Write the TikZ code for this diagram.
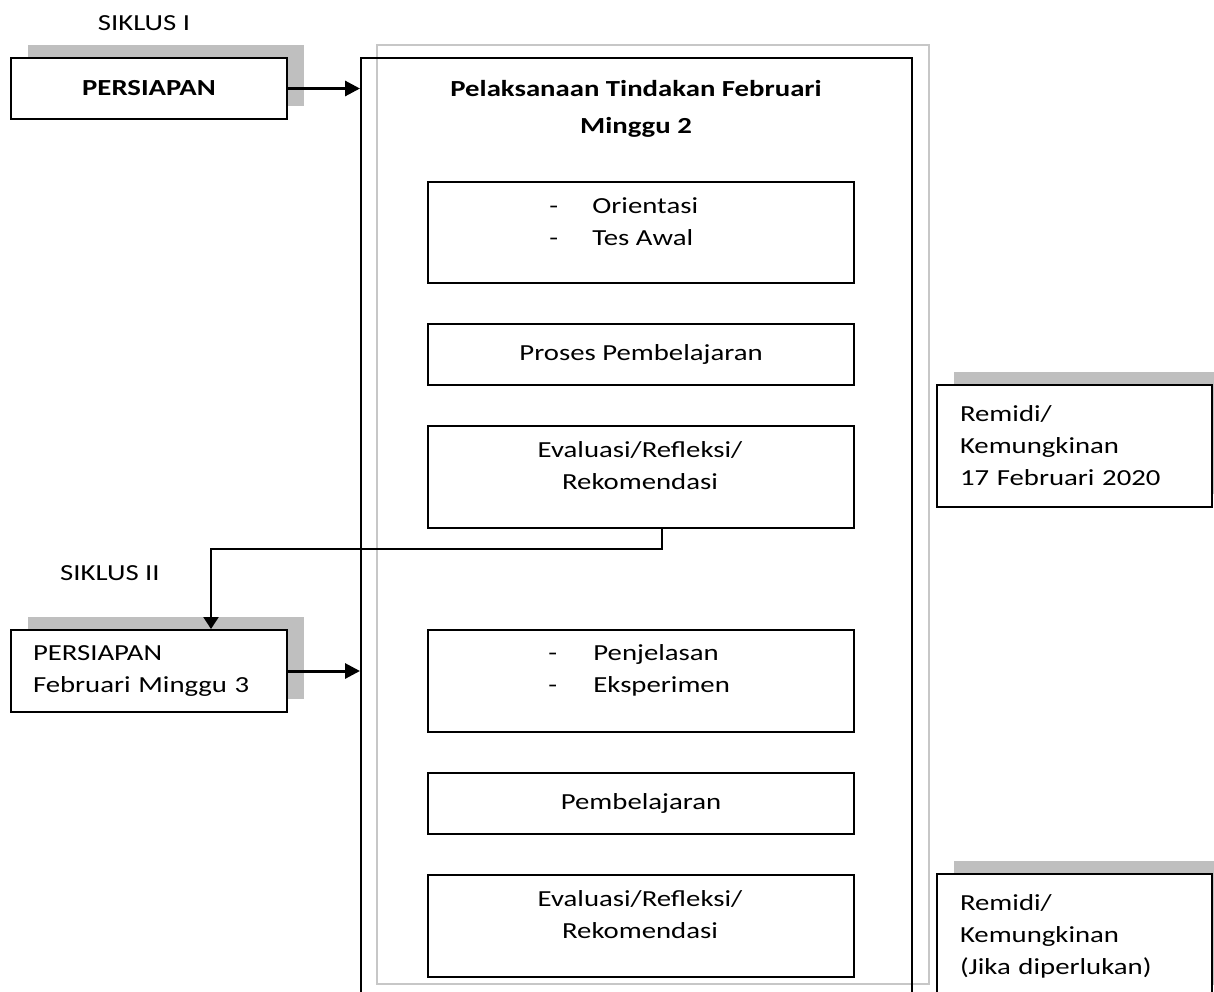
\documentclass[tikz,border=0pt]{standalone}
\usepackage{fontspec}
\setmainfont[FakeStretch=1.25]{Carlito}
\usetikzlibrary{arrows.meta,positioning,shadows}
\tikzset{every picture/.style={/utils/exec={\fontsize{11.5}{16}\selectfont}}}

\begin{document}
\begin{tikzpicture}[x=0.5pt,y=-0.5pt]
  \tikzstyle{bayang} = [drop shadow={shadow xshift=8.5pt, shadow yshift=6.5pt, fill=black!25, opacity=1}]
  \tikzstyle{persiapan} = [rectangle, draw=black, fill=white, line width=1pt, minimum width=138pt, anchor=north west, bayang]
  \tikzstyle{kegiatan} = [rectangle, draw=black, line width=1pt, minimum width=213pt, anchor=north west]
  \tikzstyle{remidi} = [rectangle, draw=black, fill=white, line width=1pt, minimum width=137.5pt, anchor=north west, text width=114.5pt, inner xsep=11.5pt, align=left, bayang]
  \tikzstyle{teks} = [inner sep=0pt, align=center]

  \tikzstyle{arrow} = [-{Triangle[length=7.5pt,width=7.5pt]}, line width=1.5pt]
  \tikzstyle{link} = [-{Triangle[length=6pt,width=7.5pt]}, line width=1.1pt]

  \useasboundingbox (0,0) rectangle (1214,991);

  % frame behind the main box
  \node (bingkai) [rectangle, draw=black!22, line width=1pt, minimum width=276pt, minimum height=469.5pt, anchor=north west] at (376,44) {};
  \node (pelaksanaan) [kegiatan, minimum width=275.5pt, minimum height=480pt] at (360,57) {};
  \node (judul) [teks, font=\bfseries\fontsize{11.5}{18.5}\selectfont] at (636,108.5) {Pelaksanaan Tindakan Februari\\Minggu 2};

  \node (siklus1) [teks] at (144,23) {SIKLUS I};
  \node (persiapan1) [persiapan, minimum height=30.5pt, font=\bfseries] at (10,57) {PERSIAPAN};

  \node (orientasi) [kegiatan, minimum height=50.5pt] at (427,181) {};
  \node (orientasiteks) [teks, align=left, anchor=west] at (549,221.5) {\makebox[21.5pt][l]{-}Orientasi\\\makebox[21.5pt][l]{-}Tes Awal};
  \node (proses) [kegiatan, minimum height=30.5pt] at (427,323) {Proses Pembelajaran};
  \node (evaluasi1) [kegiatan, minimum height=51pt] at (427,425) {};
  \node (evaluasi1teks) [teks] at (640,466) {Evaluasi/Refleksi/\\Rekomendasi};

  \node (siklus2) [teks] at (110,573) {SIKLUS II};
  \node (persiapan2) [persiapan, minimum height=41pt, text width=116pt, inner xsep=11pt, align=left] at (10,629) {PERSIAPAN\\Februari Minggu 3};

  \node (penjelasan) [kegiatan, minimum height=51pt] at (427,629) {};
  \node (penjelasanteks) [teks, align=left, anchor=west] at (548,670) {\makebox[22.5pt][l]{-}Penjelasan\\\makebox[22.5pt][l]{-}Eksperimen};
  \node (pembelajaran) [kegiatan, minimum height=30.5pt] at (427,772) {Pembelajaran};
  \node (evaluasi2) [kegiatan, minimum height=51pt] at (427,874) {};
  \node (evaluasi2teks) [teks] at (640,915) {Evaluasi/Refleksi/\\Rekomendasi};

  \node (remidi1) [remidi, minimum height=61pt] at (936,384) {Remidi/\\Kemungkinan\\17 Februari 2020};
  \node (remidi2) [remidi, minimum height=62pt] at (936,873) {Remidi/\\Kemungkinan\\(Jika diperlukan)};

  \draw [arrow] (persiapan1.east) -- (persiapan1.east -| pelaksanaan.west);
  \draw [arrow] (persiapan2.east) -- (persiapan2.east -| pelaksanaan.west);
  % down, across, then down into siklus II
  \draw [link] ([xshift=10.5pt]evaluasi1.south) -- ++(0,20) -| ([xshift=31pt]persiapan2.north);
\end{tikzpicture}
\end{document}
